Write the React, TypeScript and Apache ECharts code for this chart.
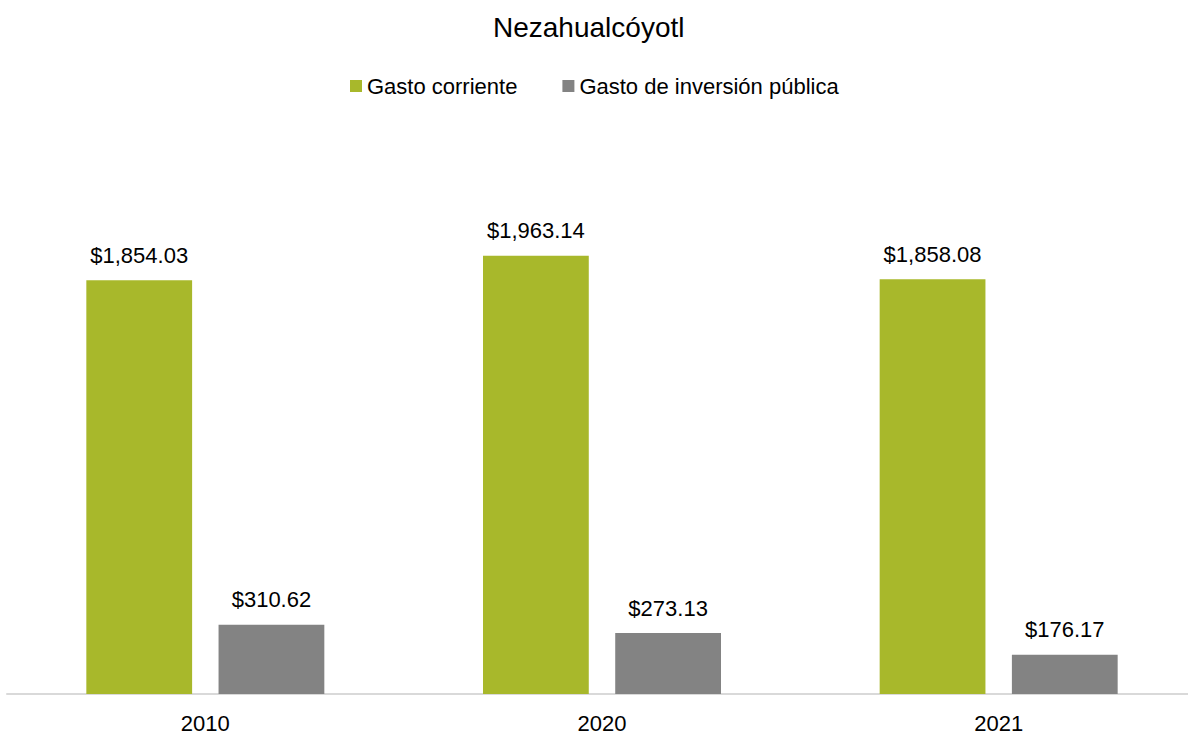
import React, { useEffect, useRef } from "react";
import * as echarts from "echarts";

const categories = ["2010", "2020", "2021"];
const gastoCorriente = [1854.03, 1963.14, 1858.08];
const gastoInversion = [310.62, 273.13, 176.17];
const seriesNames = ["Gasto corriente", "Gasto de inversión pública"];
const chartTitle = "Nezahualcóyotl";

const FONT = "'Liberation Sans', Arial, sans-serif";

const fmt = (v: number) =>
  "$" + v.toLocaleString("en-US", { minimumFractionDigits: 2, maximumFractionDigits: 2 });

export default function App() {
  const ref = useRef<HTMLDivElement>(null);
  useEffect(() => {
    document.body.style.margin = "0";
    const chart = echarts.init(ref.current!, null, { renderer: "svg" });
    const label = {
      show: true,
      position: "top" as const,
      distance: 14,
      color: "#000",
      fontSize: 22,
      fontFamily: FONT,
      formatter: (p: any) => fmt(p.value),
    };
    chart.setOption({
      animation: false,
      backgroundColor: "#fff",
      textStyle: { fontFamily: FONT },
      title: {
        text: chartTitle,
        left: 488,
        top: 8,
        textStyle: { fontSize: 28, fontWeight: "normal", color: "#000", fontFamily: FONT },
      },
      legend: {
        top: 70,
        left: 345,
        itemWidth: 12,
        itemHeight: 12,
        itemGap: 45,
        icon: "rect",
        textStyle: { fontSize: 22, color: "#000", fontFamily: FONT },
        data: seriesNames,
      },
      grid: { left: 7, width: 1190, top: 136, bottom: 40 },
      xAxis: {
        type: "category",
        data: categories,
        axisLine: { lineStyle: { color: "#D9D9D9", width: 2 } },
        axisTick: { show: false },
        axisLabel: { fontSize: 22, color: "#000", margin: 18, fontFamily: FONT },
      },
      yAxis: {
        type: "value",
        min: 0,
        max: 2500,
        show: false,
        splitLine: { show: false },
      },
      series: [
        {
          name: seriesNames[0],
          type: "bar",
          data: gastoCorriente,
          itemStyle: { color: "#A8B82B" },
          barGap: "25%",
          barCategoryGap: "40%",
          label,
        },
        {
          name: seriesNames[1],
          type: "bar",
          data: gastoInversion,
          itemStyle: { color: "#838383" },
          barGap: "25%",
          barCategoryGap: "40%",
          label,
        },
      ],
    });
    return () => chart.dispose();
  }, []);
  return (
    <div style={{ width: 1188, height: 734, overflow: "hidden" }}>
      <div ref={ref} style={{ width: 1200, height: 734 }} />
    </div>
  );
}
